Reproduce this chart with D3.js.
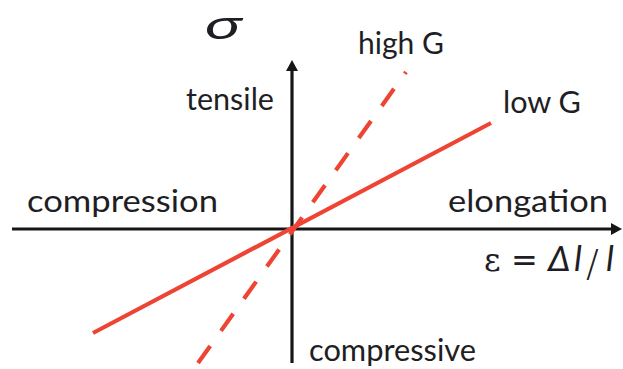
<!DOCTYPE html>
<html>
<head>
<meta charset="utf-8">
<script src="https://cdn.jsdelivr.net/npm/d3@7"></script>
<style>
  html, body { margin: 0; padding: 0; background: #fff; }
  svg { display: block; }
  text { font-family: Lato, "Open Sans", sans-serif; fill: #1e1e24; }
</style>
</head>
<body>
<svg id="chart" width="623" height="369"></svg>
<script>
// Strain range covered by the horizontal axis and stress range of the vertical axis
const strainExtent = [-2.8, 3.3];
const stressExtent = [-1.34, 1.69];

// Stress–strain lines (strain, stress) for a soft and a stiff material
const lowG  = [[-1.99, -1.04], [1.99, 1.06]];
const highG = [[-0.94, -1.34], [1.14, 1.57]];

// Text labels
const quadrantLabels = ["compression", "elongation", "tensile", "compressive"];
const seriesLabels = ["low G", "high G"];

const W = 623, H = 369;
const svg = d3.select("#chart");

const x = d3.scaleLinear().domain(strainExtent).range([12, 622]);
const y = d3.scaleLinear().domain(stressExtent).range([363, 60]);

const ink = "#161616";
const red = "#ee4433";

// Axes with arrowheads
svg.append("line")
  .attr("x1", x(strainExtent[0])).attr("y1", y(0))
  .attr("x2", x(strainExtent[1]) - 6).attr("y2", y(0))
  .attr("stroke", ink).attr("stroke-width", 3.2);
svg.append("path")
  .attr("d", `M${x(strainExtent[1])},${y(0)} l-11,-6 l0,12 Z`)
  .attr("fill", ink);

svg.append("line")
  .attr("x1", x(0)).attr("y1", y(stressExtent[0]))
  .attr("x2", x(0)).attr("y2", y(stressExtent[1]) + 6)
  .attr("stroke", ink).attr("stroke-width", 3.2);
svg.append("path")
  .attr("d", `M${x(0)},${y(stressExtent[1])} l-6,11 l12,0 Z`)
  .attr("fill", ink);

// Material lines
const line = d3.line().x(d => x(d[0])).y(d => y(d[1]));

svg.append("path")
  .datum(lowG)
  .attr("d", line)
  .attr("fill", "none")
  .attr("stroke", red)
  .attr("stroke-width", 4.2);

svg.append("path")
  .datum(highG)
  .attr("d", line)
  .attr("fill", "none")
  .attr("stroke", red)
  .attr("stroke-width", 4.2)
  .attr("stroke-dasharray", "21,18.5");

// Labels
function label(txt, px, py, len, size) {
  const t = svg.append("text")
    .attr("x", px).attr("y", py)
    .attr("font-size", size)
    .text(txt);
  if (len) t.attr("textLength", len).attr("lengthAdjust", "spacingAndGlyphs");
  return t;
}

label(quadrantLabels[0], 27, 212, 191, 31);
label(quadrantLabels[1], 448, 212, 160, 31);
label(quadrantLabels[2], 186, 110, 88, 31);
label(quadrantLabels[3], 309, 361, 167, 31);
label(seriesLabels[0], 503, 113, 78, 31);
label(seriesLabels[1], 358, 54, 86, 31);

// Axis symbols
svg.append("text")
  .attr("x", 205).attr("y", 39)
  .attr("font-family", "'DejaVu Serif', serif")
  .attr("font-style", "italic")
  .attr("font-size", 40)
  .attr("textLength", 37).attr("lengthAdjust", "spacingAndGlyphs")
  .text("σ");

const eq = svg.append("text").attr("y", 271).attr("font-size", 35);
eq.append("tspan").attr("x", 484).attr("font-family", "'DejaVu Serif', serif").attr("font-size", 32).text("ε");
eq.append("tspan").attr("x", 511).attr("font-family", "'DejaVu Sans', sans-serif").attr("font-size", 32).text("=");
eq.append("tspan").attr("x", 548).attr("font-style", "italic").text("Δ");
eq.append("tspan").attr("x", 574).attr("font-style", "italic").text("l");
eq.append("tspan").attr("x", 586).attr("font-family", "'DejaVu Sans', sans-serif").attr("font-weight", 300).attr("font-size", 38).attr("dy", 5).text("/");
eq.append("tspan").attr("x", 606).attr("dy", -5).attr("font-style", "italic").text("l");
</script>
</body>
</html>
